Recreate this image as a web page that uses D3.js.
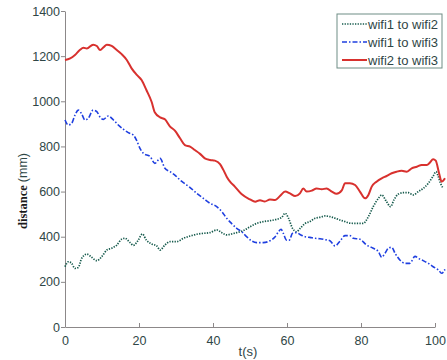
<!DOCTYPE html>
<html>
<head>
<meta charset="utf-8">
<script src="https://cdn.jsdelivr.net/npm/d3@7"></script>
<style>
  body { margin: 0; background: #fff; }
  svg { display: block; }
</style>
</head>
<body>
<svg id="chart" width="447" height="360"></svg>
<script>
// values, t in seconds, distance in mm
var t12 = [0, 0.9, 1.8, 2.7, 3.6, 4.5, 5.9, 7.2, 8.6, 9.9, 11.3, 12.6, 14, 15.3, 16.2, 17.6, 18.5, 19.8, 20.9, 22, 23.4, 24.8, 25.7, 27, 28.4, 30.2, 32, 33.8, 35.6, 37.4, 39.2, 41, 42.4, 43.7, 45, 46.4, 48.2, 50, 51.8, 53.6, 55.4, 57.2, 58.6, 59.5, 60.4, 61.5, 62.6, 63.5, 64.9, 66.2, 67.6, 68.9, 70.3, 71.6, 73, 74.3, 75.7, 77, 78.8, 80.6, 82, 83.3, 84.7, 85.6, 86.9, 88, 88.9, 90.1, 91.4, 92.8, 94.1, 95.5, 96.8, 98.2, 99.4, 100.3, 100.9, 101.5, 102.2]
var wifi12 = [267, 289, 282, 260, 264, 304, 323, 309, 294, 311, 341, 349, 363, 389, 393, 374, 362, 385, 412, 385, 368, 359, 341, 363, 378, 378, 393, 403, 411, 415, 418, 430, 418, 408, 412, 418, 427, 444, 459, 467, 471, 477, 486, 504, 482, 437, 422, 436, 459, 467, 482, 486, 492, 489, 482, 474, 467, 460, 459, 459, 489, 533, 570, 585, 555, 533, 563, 589, 595, 595, 585, 600, 614, 637, 666, 688, 666, 637, 614]

var t13 = [0, 0.9, 1.8, 2.7, 3.6, 4.5, 5.4, 6.3, 7.6, 8.6, 9.5, 10.4, 11.7, 13.1, 14.4, 15.8, 17.1, 18.5, 19.4, 20.3, 21.2, 23, 24.3, 25.7, 27, 28.4, 29.7, 31.1, 32.4, 33.8, 35.6, 37.4, 39.2, 41, 42.4, 43.7, 45, 46.4, 47.8, 49.1, 50.5, 51.8, 53.6, 55.4, 56.8, 57.7, 58.4, 59, 59.9, 60.6, 61.5, 62.6, 63.5, 64.9, 66.2, 67.6, 68.9, 70.3, 71.6, 73, 74.3, 75.7, 77, 77.9, 79.7, 81.5, 83.3, 84.7, 85.6, 86.5, 87.4, 88.3, 89.2, 90.5, 91.9, 93.2, 94.6, 95.5, 96.8, 98.2, 99.5, 100.9, 101.8, 102.7]
var wifi13 = [917, 895, 902, 939, 961, 944, 917, 925, 961, 954, 929, 920, 935, 917, 895, 876, 861, 850, 825, 790, 769, 755, 725, 747, 703, 688, 673, 651, 635, 618, 592, 570, 548, 533, 511, 482, 459, 437, 422, 400, 381, 374, 374, 382, 400, 422, 433, 415, 385, 385, 415, 418, 410, 400, 397, 393, 391, 387, 382, 359, 380, 405, 405, 393, 389, 363, 349, 334, 309, 327, 349, 353, 327, 297, 282, 282, 313, 304, 294, 282, 267, 253, 238, 255]

var t23 = [0, 1.4, 2.7, 4, 5, 5.9, 7.6, 8.6, 9.5, 10.4, 11.3, 12.6, 14, 15.3, 16.7, 18, 19.4, 20.7, 22, 23.4, 24.3, 25.7, 27, 28.4, 29.7, 31.1, 32.4, 33.8, 35.1, 36.5, 37.8, 39.2, 40.5, 41.9, 42.8, 43.7, 44.6, 45.9, 47.7, 50, 51.4, 52.7, 54, 55.4, 56.8, 58.1, 59.5, 60.8, 62.2, 63.5, 64.4, 65.3, 66.7, 68, 69.4, 70.7, 72.1, 73.4, 74.8, 75.7, 77, 78.4, 79.7, 81.1, 82, 82.9, 84.2, 85.6, 86.9, 88.3, 89.6, 91, 92.3, 93.7, 95.1, 96.4, 97.8, 98.6, 99.5, 100.2, 101.1, 101.8, 102.7]
var wifi23 = [1183, 1190, 1205, 1227, 1237, 1234, 1251, 1245, 1227, 1239, 1251, 1245, 1227, 1209, 1183, 1146, 1117, 1094, 1050, 998, 950, 929, 920, 888, 870, 836, 806, 799, 784, 767, 747, 740, 737, 722, 696, 666, 644, 622, 589, 565, 555, 562, 556, 565, 563, 580, 600, 592, 580, 592, 614, 600, 604, 614, 610, 614, 600, 590, 605, 637, 637, 629, 600, 570, 585, 622, 644, 659, 669, 681, 688, 692, 688, 703, 710, 718, 718, 728, 743, 737, 681, 644, 659]

var seriesNames = ["wifi1 to wifi2", "wifi1 to wifi3", "wifi2 to wifi3"]
var xTicks = [0, 20, 40, 60, 80, 100]
var yTicks = [0, 200, 400, 600, 800, 1000, 1200, 1400]

const W = 447, H = 360
const margin = { top: 11, right: 12, bottom: 33, left: 65 }
const plotW = 370
const plotH = H - margin.top - margin.bottom

const AXIS_COLOR = '#8c8889'
const TEXT_COLOR = '#2f4646'

let svg = d3.select('#chart')
svg.append('rect').attr('width', W).attr('height', H).attr('fill', '#fff')

let g = svg.append('g').attr('transform', `translate(${margin.left}, ${margin.top})`)

let xScale = d3.scaleLinear().domain([0, 100]).range([0, plotW])
let yScale = d3.scaleLinear().domain([0, 1400]).range([plotH, 0])

// x axis: ticks pointing into the plot
let xAxis = g.append('g')
  .attr('transform', `translate(0, ${plotH})`)
  .call(d3.axisBottom(xScale).tickValues(xTicks).tickFormat(d3.format('d'))
    .tickSizeInner(-4).tickSizeOuter(0).tickPadding(9))
// y axis: ticks outside
let yAxis = g.append('g')
  .call(d3.axisLeft(yScale).tickValues(yTicks).tickFormat(d3.format('d'))
    .tickSizeInner(4).tickSizeOuter(0).tickPadding(1))

for (let ax of [xAxis, yAxis]) {
  ax.select('.domain').attr('stroke', AXIS_COLOR).attr('stroke-width', 1)
  ax.selectAll('.tick line').attr('stroke', AXIS_COLOR)
  ax.selectAll('.tick text')
    .attr('fill', TEXT_COLOR)
    .attr('font-family', 'Liberation Sans, Arial, sans-serif')
    .attr('font-size', 12.5)
}

// axis labels
svg.append('text')
  .attr('x', 248).attr('y', 356)
  .attr('text-anchor', 'middle')
  .attr('fill', TEXT_COLOR)
  .attr('font-family', 'Liberation Sans, Arial, sans-serif')
  .attr('font-size', 13)
  .text('t(s)')

let yLabel = svg.append('text')
  .attr('transform', 'translate(27, 191) rotate(-90)')
  .attr('text-anchor', 'middle')
  .attr('fill', '#1a1a1a')
yLabel.append('tspan')
  .attr('font-family', 'Liberation Serif, Times New Roman, serif')
  .attr('font-weight', 'bold')
  .attr('font-size', 12.5)
  .text('distance ')
yLabel.append('tspan')
  .attr('font-family', 'Liberation Sans, Arial, sans-serif')
  .attr('font-size', 12.5)
  .attr('fill', TEXT_COLOR)
  .text('(mm)')

// lines
let styles = [
  { t: t12, v: wifi12, color: '#155a4c', width: 1.7, dash: '1.3,1.3' },
  { t: t13, v: wifi13, color: '#1f3fe0', width: 1.6, dash: '5,2,1.5,2' },
  { t: t23, v: wifi23, color: '#d8312e', width: 2, dash: null }
]

let line = d3.line()
  .x(d => xScale(d[0]))
  .y(d => yScale(d[1]))
  .curve(d3.curveMonotoneX)

styles.forEach(function (s) {
  g.append('path')
    .datum(d3.zip(s.t, s.v))
    .attr('fill', 'none')
    .attr('stroke', s.color)
    .attr('stroke-width', s.width)
    .attr('stroke-dasharray', s.dash)
    .attr('stroke-linejoin', 'round')
    .attr('d', line)
})

// legend
let legend = svg.append('g').attr('transform', 'translate(337, 14)')
legend.append('rect')
  .attr('width', 105).attr('height', 54)
  .attr('fill', '#fff')
  .attr('stroke', '#6f8d85')
  .attr('stroke-width', 1)

styles.forEach(function (s, i) {
  let cy = 10 + i * 18
  legend.append('line')
    .attr('x1', 5).attr('x2', 30)
    .attr('y1', cy).attr('y2', cy)
    .attr('stroke', s.color)
    .attr('stroke-width', s.width)
    .attr('stroke-dasharray', s.dash)
  legend.append('text')
    .attr('x', 31).attr('y', cy + 4.5)
    .attr('fill', TEXT_COLOR)
    .attr('font-family', 'Liberation Sans, Arial, sans-serif')
    .attr('font-size', 13)
    .text(seriesNames[i])
})
</script>
</body>
</html>
